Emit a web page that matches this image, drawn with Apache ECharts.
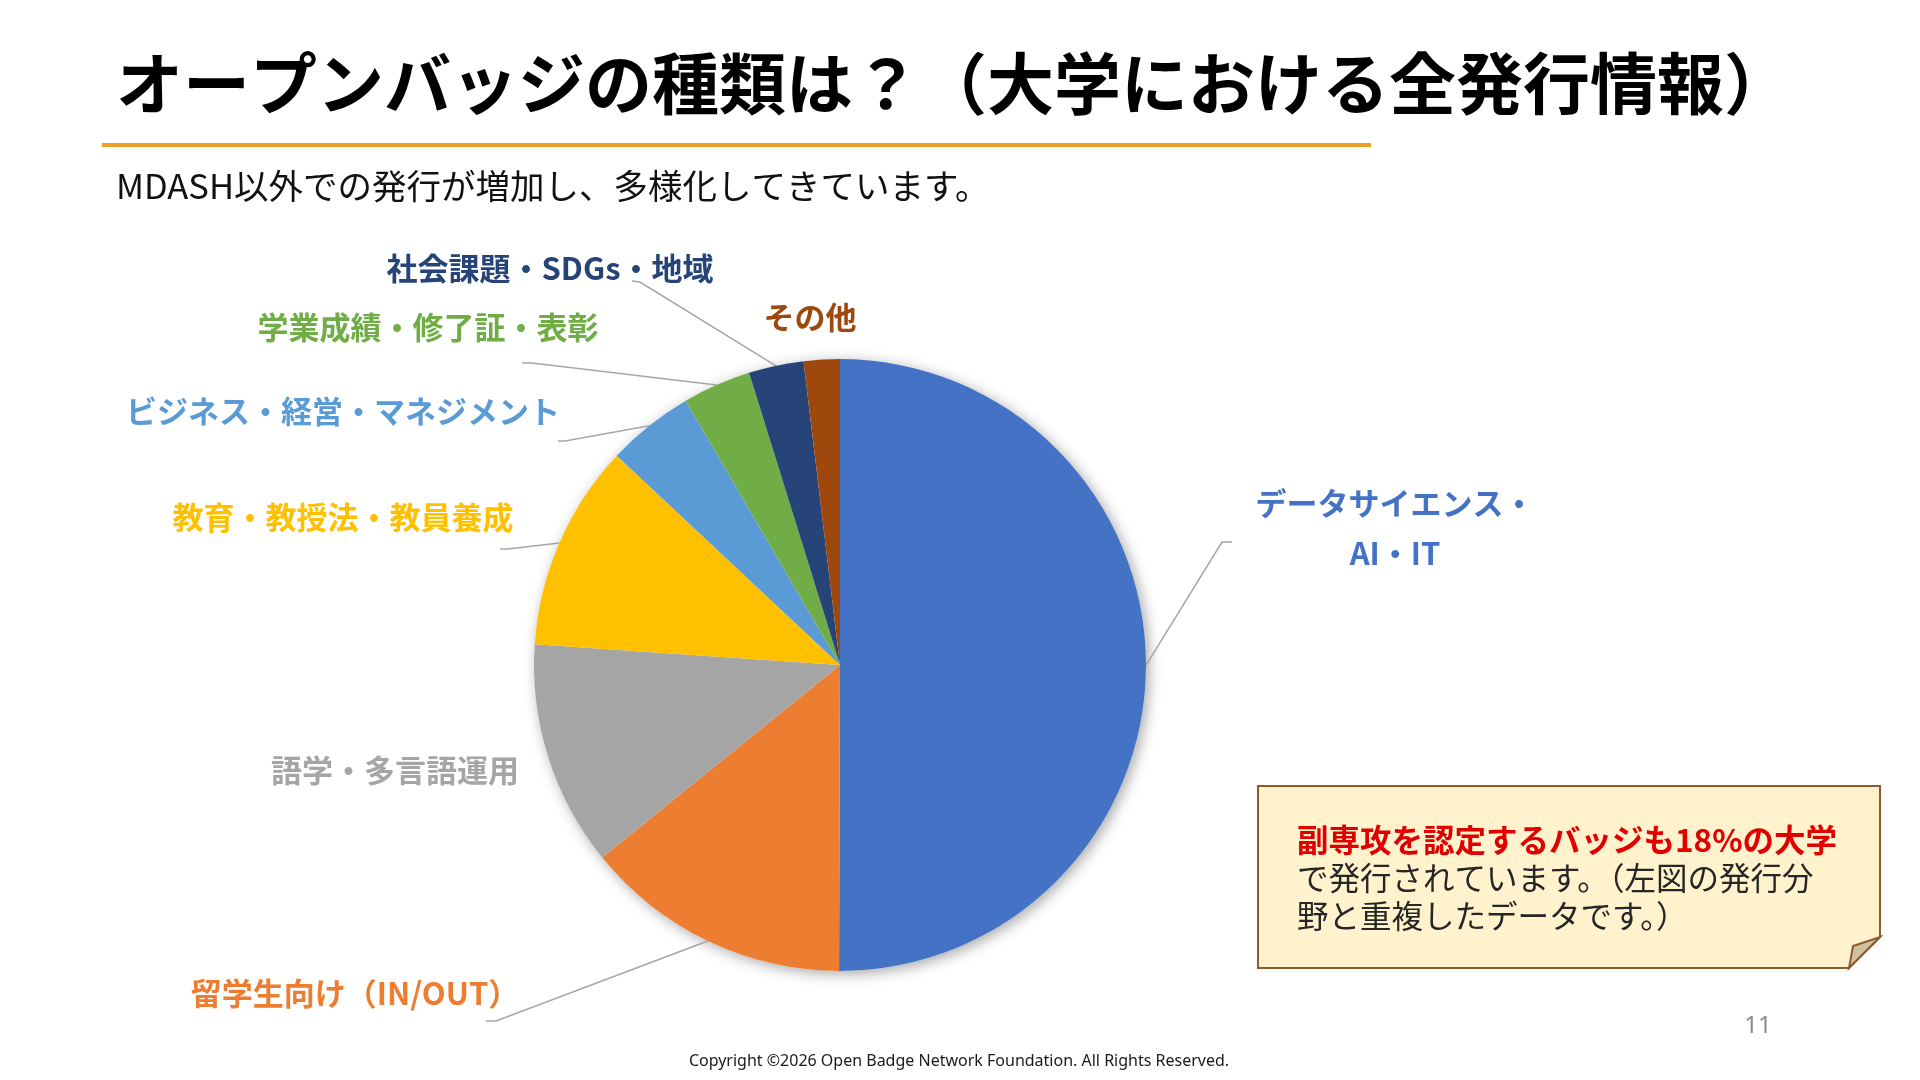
<!DOCTYPE html>
<html>
<head>
<meta charset="utf-8">
<script src="https://cdn.jsdelivr.net/npm/echarts@6/dist/echarts.min.js"></script>
<style>
html,body{margin:0;padding:0;background:#fff;}
#c{width:1920px;height:1080px;}
</style>
</head>
<body>
<div id="c"></div>
<script>
// ---- data ----
const categories = [
  'データサイエンス・\nAI・IT',
  '留学生向け（IN/OUT）',
  '語学・多言語運用',
  '教育・教授法・教員養成',
  'ビジネス・経営・マネジメント',
  '学業成績・修了証・表彰',
  '社会課題・SDGs・地域',
  'その他'
];
const values = [50, 14.1, 11.9, 10.9, 4.6, 3.6, 2.9, 1.9];
const colors = ['#4472C4', '#ED7D31', '#A5A5A5', '#FFC000', '#5B9BD5', '#70AD47', '#264478', '#9E480E'];
const titleText = 'オープンバッジの種類は？（大学における全発行情報）';
const subtitleText = 'MDASH以外での発行が増加し、多様化してきています。';
const noteLines = ['副専攻を認定するバッジも18%の大学', 'で発行されています。（左図の発行分', '野と重複したデータです。）'];

// ---- layout / styles ----
const CX = 840, CY = 665, R = 306;
const labelPos = [[1395, 528], [355, 993], [395, 770], [343, 517], [343, 411], [428, 327], [550, 268], [810, 317]];
const leaderElbows = [
  [[1222, 542], [1232, 542]],
  [[496, 1021], [486, 1021]],
  null,
  [[508, 549], [500, 549]],
  [[565, 441], [558, 441]],
  [[532, 363], [522, 363]],
  [[640, 282], [632, 281]],
  null
];
const FONT = '"Noto Sans CJK JP", "Noto Sans", sans-serif';

const total = values.reduce((a, b) => a + b, 0);
function edgePoint(i) {
  let before = 0;
  for (let k = 0; k < i; k++) before += values[k];
  const mid = (before + values[i] / 2) / total * Math.PI * 2;
  return [CX + R * Math.sin(mid), CY - R * Math.cos(mid)];
}

const chart = echarts.init(document.getElementById('c'), null, {renderer: 'canvas'});

const pieData = categories.map((name, i) => ({
  name: name,
  value: values[i],
  itemStyle: {color: colors[i]},
  label: {color: colors[i]},
  labelLine: {show: !!leaderElbows[i]}
}));

chart.setOption({
  animation: false,
  backgroundColor: '#ffffff',
  series: [
    {
      type: 'pie',
      silent: true,
      center: [CX, CY],
      radius: R,
      z: 1,
      label: {show: false},
      labelLine: {show: false},
      data: [{value: total, itemStyle: {color: '#ffffff', shadowBlur: 14, shadowColor: 'rgba(0,0,0,0.35)', shadowOffsetX: 3, shadowOffsetY: 3}}]
    },
    {
      type: 'pie',
      silent: true,
      center: [CX, CY],
      radius: R,
      startAngle: 90,
      clockwise: true,
      z: 2,
      itemStyle: {borderWidth: 0},
      label: {
        show: true,
        position: 'outside',
        formatter: '{b}',
        fontFamily: FONT,
        fontWeight: 'bold',
        fontSize: 31,
        lineHeight: 50
      },
      labelLine: {
        show: true,
        length: 20,
        length2: 10,
        lineStyle: {color: '#A6A6A6', width: 1.5}
      },
      labelLayout: function (params) {
        const i = params.dataIndex;
        const res = {x: labelPos[i][0], y: labelPos[i][1], align: 'center', verticalAlign: 'middle'};
        if (leaderElbows[i]) {
          res.labelLinePoints = [edgePoint(i), leaderElbows[i][0], leaderElbows[i][1]];
        }
        return res;
      },
      data: pieData
    }
  ],
  graphic: [
    {type: 'text', left: 116, top: 50, style: {text: titleText, fontFamily: FONT, fontWeight: 'bold', fontSize: 67, fill: '#000000'}},
    {type: 'rect', shape: {x: 102, y: 143, width: 1269, height: 4}, style: {fill: '#E9A126'}},
    {type: 'text', left: 116, top: 169, style: {text: subtitleText, fontFamily: FONT, fontSize: 34.5, fill: '#111111'}},
    {type: 'polygon', shape: {points: [[1258, 786], [1880, 786], [1880, 937], [1849, 968], [1258, 968]]},
      style: {fill: '#FFF2CC', stroke: '#8E5B2C', lineWidth: 2}},
    {type: 'polygon', shape: {points: [[1880, 937], [1849, 968], [1853, 946]]},
      style: {fill: '#CFC0A0', stroke: '#8E5B2C', lineWidth: 2}},
    {type: 'text', x: 1297, y: 840, style: {text: noteLines[0], fontFamily: FONT, fontWeight: 'bold', fontSize: 31.5, fill: '#E00000', verticalAlign: 'middle'}},
    {type: 'text', x: 1297, y: 878, style: {text: noteLines[1], fontFamily: FONT, fontSize: 31.5, fill: '#262626', verticalAlign: 'middle'}},
    {type: 'text', x: 1297, y: 916, style: {text: noteLines[2], fontFamily: FONT, fontSize: 31.5, fill: '#262626', verticalAlign: 'middle'}},
    {type: 'text', x: 1758, y: 1026, style: {text: '11', fontFamily: '"Noto Sans", sans-serif', fontSize: 24, fill: '#8C8C8C', align: 'center', verticalAlign: 'middle'}},
    {type: 'text', x: 959, y: 1061, style: {text: 'Copyright ©2026 Open Badge Network Foundation. All Rights Reserved.', fontFamily: '"Noto Sans", sans-serif', fontSize: 16, fill: '#1a1a1a', align: 'center', verticalAlign: 'middle'}}
  ]
});
</script>
</body>
</html>
